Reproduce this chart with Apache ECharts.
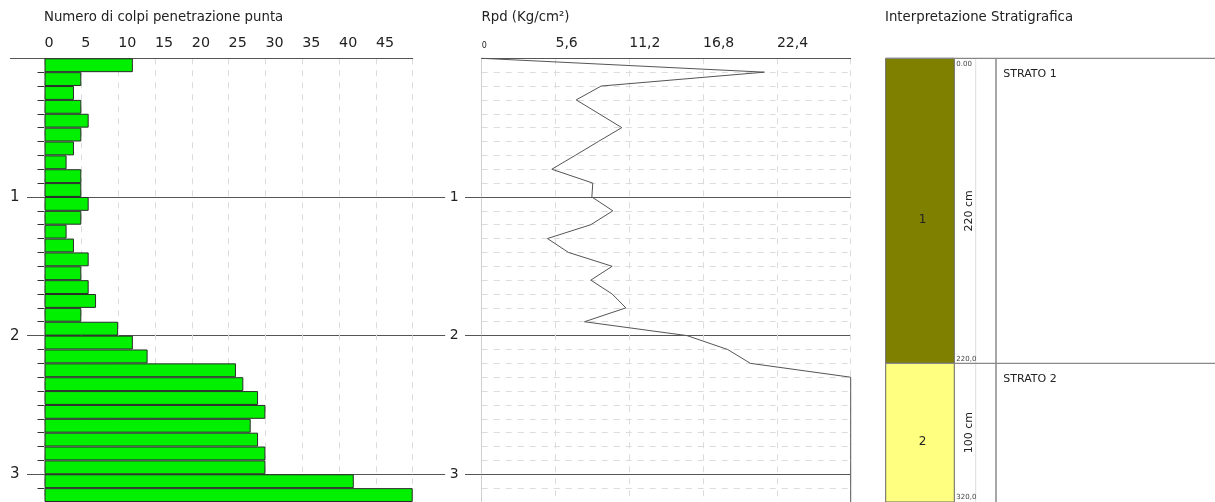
<!DOCTYPE html>
<html><head><meta charset="utf-8">
<script src="https://cdn.jsdelivr.net/npm/echarts@6/dist/echarts.min.js"></script>
<style>html,body{margin:0;padding:0;background:#fff}#c{width:1215px;height:502px}</style>
</head><body><div id="c"></div>
<script>
// ---- data ----
const depthBins = ['0.0-0.1','0.1-0.2','0.2-0.3','0.3-0.4','0.4-0.5','0.5-0.6','0.6-0.7','0.7-0.8','0.8-0.9','0.9-1.0',
  '1.0-1.1','1.1-1.2','1.2-1.3','1.3-1.4','1.4-1.5','1.5-1.6','1.6-1.7','1.7-1.8','1.8-1.9','1.9-2.0',
  '2.0-2.1','2.1-2.2','2.2-2.3','2.3-2.4','2.4-2.5','2.5-2.6','2.6-2.7','2.7-2.8','2.8-2.9','2.9-3.0',
  '3.0-3.1','3.1-3.2'];
const blows = [12,5,4,5,6,5,4,3,5,5, 6,5,3,4,6,5,6,7,5,10, 12,14,26,27,29,30,28,29,30,30, 42,50];
const rpdDepths = [0,0.1,0.2,0.3,0.4,0.5,0.6,0.7,0.8,0.9,1.0,1.1,1.2,1.3,1.4,1.5,1.6,1.7,1.8,1.9,2.0,
  2.1,2.2,2.3,2.4,2.5,2.6,2.7,2.8,2.9,3.0,3.1,3.2];
const rpdValues = [0,21.45,9.07,7.17,8.9,10.63,8.85,7.1,5.32,8.43,8.36,9.95,8.28,4.99,6.58,9.9,8.28,9.9,10.94,7.8,15.58,
  18.66,20.39,28,28,28,28,28,28,28,28,28,28];
const blowTickLabels = ['0','5','10','15','20','25','30','35','40','45'];
const rpdTickLabels = ['0','5,6','11,2','16,8','22,4'];
const depthTicks = [1,2,3];
const depthTickLabels = ['1','2','3'];
const strataTop = [0,220];
const strataBottom = [220,320];
const strataNames = ['STRATO 1','STRATO 2'];
const strataNumbers = ['1','2'];
const strataThickness = ['220 cm','100 cm'];
const strataBottomLabels = ['220,0','320,0'];
const strataTopLabel = '0.00';
const strataColors = ['#808000','#ffff80'];

// ---- chart ----
const TOP = 58.3, H = 445.4;
const FONT = 'DejaVu Sans';
const dark = '#555';
const chart = echarts.init(document.getElementById('c'), null, {renderer:'canvas'});

const rpdData = rpdValues.map((v,i)=>[v, rpdDepths[i]]);
const strataData = strataTop.map((t,i)=>[t, strataBottom[i], i]);

const depthLbl = (v)=>{ const k = depthTicks.indexOf(Math.round(v)); return k>=0 ? depthTickLabels[k] : ''; };
const titleStyle = {fontSize:13.3, fontWeight:'normal', color:'#222', fontFamily:FONT};

const option = {
  animation:false,
  backgroundColor:'#fff',
  textStyle:{fontFamily:FONT},
  title:[
    {text:'Numero di colpi penetrazione punta', left:44, top:11, padding:0, textStyle:titleStyle},
    {text:'Rpd (Kg/cm²)', left:481.5, top:11, padding:0, textStyle:titleStyle},
    {text:'Interpretazione Stratigrafica', left:885, top:11, padding:0, textStyle:titleStyle}
  ],
  grid:[
    {left:44.5, top:TOP, width:368.2, height:H},
    {left:481.7, top:TOP, width:369, height:H},
    {left:885.7, top:TOP, width:329.3, height:H}
  ],
  xAxis:[
    {gridIndex:0, type:'value', position:'top', min:0, max:50, interval:5,
      axisLine:{show:true, lineStyle:{color:dark, width:1}}, axisTick:{show:false},
      axisLabel:{align:'left', fontSize:14.3, color:'#222', margin:8, fontFamily:FONT,
        formatter:(v,i)=> blowTickLabels[i] !== undefined ? blowTickLabels[i] : ''},
      splitLine:{show:true, lineStyle:{color:'#dcdcdc', type:[6,6], width:1}}},
    {gridIndex:1, type:'value', position:'top', min:0, max:28, interval:5.6,
      axisLine:{show:true, lineStyle:{color:dark, width:1}}, axisTick:{show:false},
      axisLabel:{align:'left', fontSize:14, color:'#222', margin:8, fontFamily:FONT,
        formatter:(v,i)=> i===0 ? '{s|'+rpdTickLabels[0]+'}' : (rpdTickLabels[i] !== undefined ? rpdTickLabels[i] : ''),
        rich:{s:{fontSize:8, color:'#222', fontFamily:FONT}}},
      splitLine:{show:true, lineStyle:{color:'#dcdcdc', type:[6,6], width:1}}},
    {gridIndex:2, type:'value', min:0, max:1, show:false}
  ],
  yAxis:[
    {gridIndex:0, type:'category', data:depthBins, inverse:true, show:false, boundaryGap:true},
    {gridIndex:0, type:'value', min:0, max:3.2, interval:0.1, inverse:true, position:'left',
      axisLine:{show:false}, axisTick:{show:true, length:7, lineStyle:{color:'#333'}},
      axisLabel:{show:false}, splitLine:{show:false}},
    {gridIndex:0, type:'value', min:0, max:3.2, interval:1, inverse:true, position:'left',
      axisLine:{show:false}, axisTick:{show:true, length:17.5, customValues:depthTicks, lineStyle:{color:dark}},
      axisLabel:{show:true, customValues:depthTicks, fontSize:15, color:'#222', margin:25, fontFamily:FONT, formatter:depthLbl},
      splitLine:{show:true, lineStyle:{color:dark, width:1}}},
    {gridIndex:0, type:'value', min:0, max:3.2, interval:1, inverse:true, position:'left',
      axisLine:{show:false}, axisTick:{show:true, length:34.5, customValues:[0], lineStyle:{color:dark}},
      axisLabel:{show:false}, splitLine:{show:false}},
    {gridIndex:0, type:'value', min:0, max:3.2, interval:1, inverse:true, position:'right',
      axisLine:{show:false}, axisTick:{show:true, length:32.5, customValues:depthTicks, lineStyle:{color:dark}},
      axisLabel:{show:false}, splitLine:{show:false}},
    {gridIndex:1, type:'value', min:0, max:3.2, interval:0.1, inverse:true, position:'left',
      axisLine:{show:true, lineStyle:{color:'#cfcfcf', width:1}}, axisTick:{show:false},
      axisLabel:{show:false}, splitLine:{show:true, lineStyle:{color:'#dcdcdc', type:[6,6], width:1}}},
    {gridIndex:1, type:'value', min:0, max:3.2, interval:1, inverse:true, position:'left',
      axisLine:{show:false}, axisTick:{show:true, length:16.7, customValues:depthTicks, lineStyle:{color:dark}},
      axisLabel:{show:true, customValues:depthTicks, fontSize:14, color:'#222', margin:23, fontFamily:FONT, formatter:depthLbl},
      splitLine:{show:true, lineStyle:{color:dark, width:1}}},
    {gridIndex:2, type:'value', min:0, max:320, inverse:true, show:false}
  ],
  series:[
    {type:'bar', xAxisIndex:0, yAxisIndex:0, data:blows, barCategoryGap:'0%',
      itemStyle:{color:'#00f000', borderColor:'#2a2a2a', borderWidth:1}, z:1},
    {type:'line', xAxisIndex:1, yAxisIndex:5, data:rpdData, showSymbol:false, symbol:'none',
      lineStyle:{color:'#555', width:1}, clip:false},
    {type:'custom', xAxisIndex:2, yAxisIndex:7, data:strataData,
      renderItem:(params, api)=>{
        const cs = params.coordSys;
        const x0 = cs.x;
        const i = api.value(2);
        const yt = api.coord([0, api.value(0)])[1];
        const yb = api.coord([0, api.value(1)])[1];
        const colW = 68.6;
        const mid = (yt+yb)/2;
        const ch = [
          {type:'rect', shape:{x:x0, y:yt, width:colW, height:yb-yt}, style:{fill:strataColors[i], stroke:'#666', lineWidth:1}},
          {type:'line', shape:{x1:x0+90, y1:yt, x2:x0+90, y2:yb}, style:{stroke:'#dddddd', lineWidth:1}},
          {type:'line', shape:{x1:x0+110.3, y1:yt, x2:x0+110.3, y2:yb}, style:{stroke:'#888', lineWidth:1.5}},
          {type:'line', shape:{x1:x0, y1:yt, x2:x0+cs.width, y2:yt}, style:{stroke:'#888', lineWidth:1.2}},
          {type:'text', x:x0+colW/2+2.5, y:mid+9, style:{text:strataNumbers[i], fontSize:12, fontFamily:FONT, fill:'#222', align:'center', verticalAlign:'middle'}},
          {type:'text', x:x0+83, y:mid, rotation:Math.PI/2, style:{text:strataThickness[i], fontSize:11, fontFamily:FONT, fill:'#222', align:'center', verticalAlign:'middle'}},
          {type:'text', x:x0+colW+2, y:yb-1, style:{text:strataBottomLabels[i], fontSize:7, fontFamily:FONT, fill:'#444', align:'left', verticalAlign:'bottom'}},
          {type:'text', x:x0+117.6, y:yt+16, style:{text:strataNames[i], fontSize:11, fontFamily:FONT, fill:'#222', align:'left', verticalAlign:'middle'}}
        ];
        if (i===0) ch.push({type:'text', x:x0+colW+2, y:yt+2, style:{text:strataTopLabel, fontSize:7, fontFamily:FONT, fill:'#444', align:'left', verticalAlign:'top'}});
        return {type:'group', children:ch};
      }}
  ]
};
chart.setOption(option);
</script>
</body></html>
